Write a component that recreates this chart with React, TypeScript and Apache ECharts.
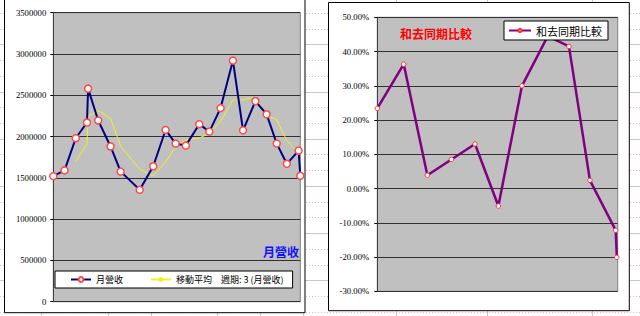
import React, { useEffect, useRef } from 'react';
import * as echarts from 'echarts';

// ---- data ----
// left chart: monthly revenue (x = position in months along a date-like axis)
const revenueX = [0, 1, 2, 3, 3.1, 4, 5.1, 6, 7.7, 8.9, 10, 10.9, 11.8, 13, 13.9, 14.9, 16, 16.9, 18, 19, 19.9, 20.8, 21.85, 22];
const revenue = [1520000, 1590000, 1980000, 2170000, 2580000, 2195000, 1880000, 1575000, 1355000, 1640000, 2080000, 1915000, 1890000, 2150000, 2060000, 2345000, 2920000, 2075000, 2430000, 2270000, 1915000, 1670000, 1830000, 1525000];
// moving average (period 3) line as read, starting at the 3rd point
const movingAvg = [1697000, 1914000, 2244000, 2315000, 2218000, 1883000, 1603000, 1523000, 1691000, 1877000, 1960000, 1984000, 2034000, 2186000, 2442000, 2446000, 2474000, 2257000, 2204000, 1951000, 1804000, 1675000];
const leftAxis = { min: 0, max: 3500000, interval: 500000 };
const leftXMax = 22;

// right chart: year-over-year comparison (%)
const yoyX = [0, 1.21, 2.29, 3.39, 4.47, 5.54, 6.62, 7.8, 8.77, 9.73, 10.91, 10.96];
const yoy = [23.4, 36.3, 3.9, 8.5, 13.0, -5.1, 30.0, 44.5, 41.5, 2.4, -12.2, -20.1];
const rightAxis = { min: -30, max: 50, interval: 10 };
const rightXMax = 11;

const nameRevenue = '月營收';
const nameMA = '移動平均　週期: 3 (月營收)';
const nameYoy = '和去同期比較';

// spreadsheet decorations
const sheetColumnX = [41, 108, 151, 217, 260, 303, 396, 487, 592];

const CJK = "'Noto Sans CJK TC', 'Noto Sans CJK SC', sans-serif";
const SERIF = "'Liberation Serif', 'DejaVu Serif', serif";

export default function App() {
  const ref = useRef<HTMLDivElement>(null);
  useEffect(() => {
    if (!ref.current) return;
    const chart = echarts.init(ref.current, undefined, { renderer: 'svg' });

    const graphics: any[] = [];
    for (let k = 0; k < 20; k++) {
      const y = Math.round(13 + 15.72 * k) + 0.5;
      const gray = k % 3 === 2;
      graphics.push({
        type: 'line', z: -20, silent: true,
        shape: { x1: 0, y1: y, x2: 640, y2: y },
        style: gray ? { stroke: '#c8c8c8', lineWidth: 1 } : { stroke: '#f0b4c4', lineWidth: 1, lineDash: [1, 2] },
      });
    }
    sheetColumnX.forEach((x) => {
      graphics.push({
        type: 'line', z: -20, silent: true,
        shape: { x1: x + 0.5, y1: 0, x2: x + 0.5, y2: 316 },
        style: { stroke: '#c8c8c8', lineWidth: 1 },
      });
    });
    graphics.push({
      type: 'rect', z: -10, silent: true,
      shape: { x: 4.5, y: -5, width: 300.5, height: 317.7 },
      style: { fill: '#ffffff', stroke: '#000000', lineWidth: 1 },
    });
    graphics.push({
      type: 'rect', z: -10, silent: true,
      shape: { x: 328.5, y: 2.5, width: 300.8, height: 308.2 },
      style: { fill: '#ffffff', stroke: '#000000', lineWidth: 1 },
    });

    const yAxisCommon = {
      axisLine: { show: true, lineStyle: { color: '#404040', width: 1 } },
      axisTick: { show: true, length: 3, lineStyle: { color: '#000' } },
      splitLine: { show: true, lineStyle: { color: '#303030', width: 1 } },
    };

    chart.setOption({
      animation: false,
      backgroundColor: '#ffffff',
      graphic: { elements: graphics },
      title: [
        { text: '月營收', left: 263, top: 245, padding: 0, textStyle: { color: '#1010ff', fontSize: 12, fontWeight: 'bold', fontFamily: CJK } },
        { text: '和去同期比較', left: 400, top: 27, padding: 0, textStyle: { color: '#ff0000', fontSize: 12, fontWeight: 'bold', fontFamily: CJK } },
      ],
      legend: [
        {
          data: [nameRevenue, nameMA], left: 55, top: 271, orient: 'horizontal',
          itemWidth: 20, itemHeight: 6, itemGap: 27, padding: [4, 9, 4, 15],
          backgroundColor: '#ffffff', borderColor: '#000000', borderWidth: 1, borderRadius: 0,
          textStyle: { fontSize: 9, fontFamily: CJK, color: '#000' }, selectedMode: false,
        },
        {
          data: [nameYoy], left: 504, top: 21, orient: 'horizontal',
          itemWidth: 22, itemHeight: 4, padding: [4, 6, 4, 4],
          backgroundColor: '#ffffff', borderColor: '#000000', borderWidth: 1, borderRadius: 0,
          textStyle: { fontSize: 11, fontFamily: CJK, color: '#000' }, selectedMode: false,
        },
      ],
      grid: [
        { left: 53.3, top: 12.7, width: 247, height: 289, show: true, backgroundColor: '#c0c0c0', borderColor: '#808080', borderWidth: 1 },
        { left: 377.3, top: 17.3, width: 240.4, height: 274, show: true, backgroundColor: '#c0c0c0', borderColor: '#808080', borderWidth: 1 },
      ],
      xAxis: [
        { type: 'value', gridIndex: 0, min: 0, max: leftXMax, show: false },
        { type: 'value', gridIndex: 1, min: 0, max: rightXMax, show: false },
      ],
      yAxis: [
        {
          type: 'value', gridIndex: 0, ...leftAxis, ...yAxisCommon,
          axisLabel: { margin: 7, fontSize: 8.7, fontFamily: SERIF, color: '#000', formatter: (v: number) => String(v) },
        },
        {
          type: 'value', gridIndex: 1, ...rightAxis, ...yAxisCommon,
          axisLabel: { margin: 8, fontSize: 8.7, fontFamily: SERIF, color: '#000', formatter: (v: number) => v.toFixed(2) + '%' },
        },
      ],
      series: [
        {
          name: nameMA, type: 'line', xAxisIndex: 0, yAxisIndex: 0, z: 2,
          data: movingAvg.map((v, i) => [revenueX[i + 2], v]),
          symbol: 'none', lineStyle: { color: '#f4f020', width: 1 }, itemStyle: { color: '#f4f020' }, clip: false,
        },
        {
          name: nameRevenue, type: 'line', xAxisIndex: 0, yAxisIndex: 0, z: 3,
          data: revenue.map((v, i) => [revenueX[i], v]),
          symbol: 'circle', symbolSize: 7, showSymbol: true,
          lineStyle: { color: '#000080', width: 2 },
          itemStyle: { color: '#ffffff', borderColor: '#ff4a4a', borderWidth: 1.5 }, clip: false,
        },
        {
          name: nameYoy, type: 'line', xAxisIndex: 1, yAxisIndex: 1, z: 3,
          data: yoy.map((v, i) => [yoyX[i], v]),
          symbol: 'circle', symbolSize: 4.5, showSymbol: true,
          lineStyle: { color: '#800080', width: 2.5 },
          itemStyle: { color: '#ffffff', borderColor: '#ff3030', borderWidth: 1 }, clip: false,
        },
      ],
    });
    return () => chart.dispose();
  }, []);
  return <div ref={ref} style={{ position: 'absolute', left: 0, top: 0, width: 640, height: 316 }} />;
}
